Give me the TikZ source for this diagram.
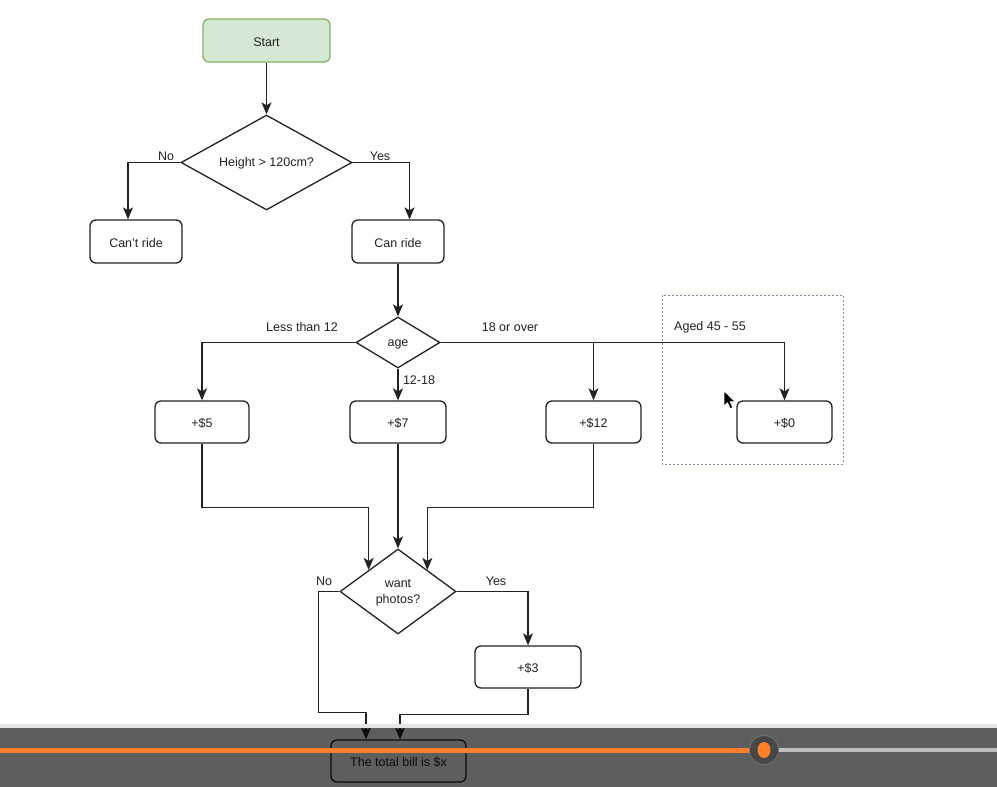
\documentclass[tikz,border=0pt]{standalone}
\usepackage{fontspec}
\setmainfont{Liberation Sans}
\usetikzlibrary{shapes.geometric,arrows.meta}
\definecolor{inkc}{HTML}{222222}
\definecolor{startfill}{HTML}{D5E8D4}
\definecolor{startline}{HTML}{82B366}
\definecolor{groupline}{HTML}{7F93A6}
\definecolor{barorange}{HTML}{FF7F2A}
\begin{document}
\begin{tikzpicture}[x=1pt,y=-1pt,
  every node/.style={font=\fontsize{12.5}{14}\selectfont, text=inkc},
  stepbox/.style={draw=inkc, line width=1.3pt, rounded corners=6pt, fill=white,
    minimum width=94pt, minimum height=42pt, inner sep=0pt, text height=11.5pt, text depth=0pt},
  decision/.style={draw=inkc, line width=1.3pt, diamond, fill=white, inner sep=0pt, align=center},
  arr/.style={draw=inkc, line width=1.3pt, -{Stealth[length=12pt,width=10pt,inset=3pt]}},
  lbl/.style={inner sep=1pt}]
\useasboundingbox (0,0) rectangle (997,787);
\fill[white] (0,0) rectangle (997,787);

% nodes
\node[stepbox, fill=startfill, draw=startline, minimum width=127pt, minimum height=43pt] (start) at (266.5,40.5) {Start};
\node[decision, aspect=1.8, minimum width=171pt, minimum height=95pt, text height=9pt, text depth=1pt] (height) at (266.5,162.5) {Height > 120cm?};
\node[stepbox, minimum width=92pt, minimum height=43pt] (cant) at (136,241.5) {Can't ride};
\node[stepbox, minimum width=92pt, minimum height=43pt] (can) at (398,241.5) {Can ride};
\node[decision, aspect=1.65, minimum width=84pt, minimum height=51pt, text height=9pt, text depth=1pt] (age) at (398,342.5) {age};
\node[stepbox] (p5) at (202,422) {+\$5};
\node[stepbox, minimum width=96pt] (p7) at (398,422) {+\$7};
\node[stepbox, minimum width=95pt] (p12) at (593.5,422) {+\$12};
\node[stepbox, minimum width=95pt] (p0) at (784.5,422) {+\$0};
\node[decision, aspect=1.36, minimum width=116pt, minimum height=85pt] (photos) at (398,591.5) {};
\node[align=center, inner sep=0pt] (photostext) at (398,593) {want\\[1.5pt]photos?};
\node[stepbox, minimum width=106pt] (p3) at (528,667) {+\$3};
\node[stepbox, minimum width=135pt] (total) at (398.5,761) {The total bill is \$x};

% group frame around the 45-55 branch
\draw[groupline, line width=1pt, dash pattern=on 2pt off 2pt] (662,295) rectangle (843,464);

% connectors
\draw[arr] (start) -- (height);
\draw[arr] (height.west) -| ([xshift=-8pt]cant.north);
\draw[arr] (height.east) -| ([xshift=11.5pt]can.north);
\draw[arr] (can) -- (age);
\draw[arr] (age.west) -| (p5.north);
\draw[arr] (age) -- (p7);
\draw[arr] (age.east) -| (p0.north);
\draw[arr] (age.east -| p12.north) -- (p12.north);
\draw[arr] (p5.south) -- ++(0,64) -| (photos.north west);
\draw[arr] (p7) -- (photos);
\draw[arr] (p12.south) -- ++(0,64) -| (photos.north east);
\draw[arr] (photos.east) -| (p3.north);
\draw[arr] (photos.west) -- ++(-21,0) -- ++(0,121) -| ([xshift=-32.5pt]total.north);
\draw[arr] (p3.south) -- ++(0,26) -| ([xshift=1.5pt]total.north);

% branch labels
\node[lbl] (lno) at (166,156.5) {No};
\node[lbl] (lyes) at (380,156.5) {Yes};
\node[lbl] (lless) at (302,327) {Less than 12};
\node[lbl] (lmid) at (419,380) {12-18};
\node[lbl] (lover) at (510,327) {18 or over};
\node[lbl] (laged) at (710,327) {Aged 45 - 55};
\node[lbl] (pno) at (324,581) {No};
\node[lbl] (pyes) at (496,581) {Yes};

% mouse pointer
\filldraw[fill=black, draw=white, line width=0.5pt] (724,391) -- (724,406) -- (727.6,402.6) -- (730.2,408.5) -- (732.6,407.5) -- (730,401.6) -- (735,401.6) -- cycle;

% player controls over the lower edge
\fill[black!10] (0,724) rectangle (997,728);
\fill[black, opacity=0.63] (0,728) rectangle (997,787);
\draw[black!25, line width=4pt] (764,750) -- (997,750);
\draw[barorange, line width=5pt] (0,750) -- (764,750);
\fill[black!72] (764,750) circle (14.5pt);
\draw[black!55, line width=0.8pt] (764,750) circle (14.5pt);
\fill[barorange] (764,750) ellipse (6.5pt and 8pt);
\end{tikzpicture}
\end{document}
